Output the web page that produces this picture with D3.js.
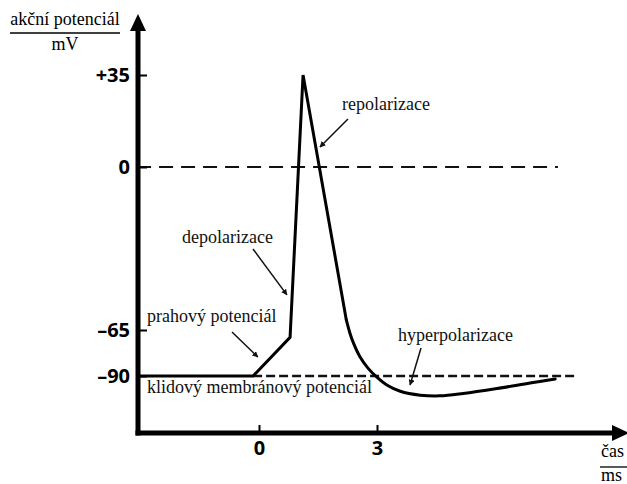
<!DOCTYPE html>
<html>
<head>
<meta charset="utf-8">
<script src="https://cdn.jsdelivr.net/npm/d3@7"></script>
<style>
  body { margin: 0; background: #fff; }
  svg { display: block; }
</style>
</head>
<body>
<script>
// Action potential
const timeMs = [-3.1, -0.15, 0.79, 1.12, 2.22, 2.31, 2.40, 2.57, 2.77, 2.99, 3.25, 3.59, 4.1, 4.6, 5.19, 6.05, 6.89, 7.53];
const potentialMv = [-90, -90, -69, 35, -61, -66.6, -72, -79.7, -85.7, -90.5, -94.9, -98.3, -100.4, -100.8, -99.5, -96.8, -93.8, -91.6];
const spikeEnd = 4; // index where the straight spike ends and the smooth tail begins

const yTicks = [35, 0, -65, -90];
const xTicks = [0, 3];

// reference (dashed) levels
const refLevels = [0, -90];
const refFrom = [-3.1, -0.15];
const refTo = [7.6, 8.1];

const width = 627, height = 484;
const axisLeftX = 138, axisBottomY = 433;

// the original drawing is not quite linear in mV, so a piecewise scale
const x = d3.scaleLinear().domain([0, 3]).range([259, 377]);
const y = d3.scaleLinear().domain([-90, -65, 0, 35]).range([376, 330, 167, 75]);

const svg = d3.select("body").append("svg")
  .attr("width", width)
  .attr("height", height);

const serif = "'Liberation Serif', 'DejaVu Serif', serif";
const sans = "'Open Sans', 'DejaVu Sans', sans-serif";

svg.append("defs").append("marker")
  .attr("id", "head")
  .attr("viewBox", "0 0 10 10")
  .attr("refX", 9).attr("refY", 5)
  .attr("markerWidth", 6).attr("markerHeight", 6)
  .attr("markerUnits", "userSpaceOnUse")
  .attr("orient", "auto")
  .append("path")
  .attr("d", "M0,0 L10,5 L0,10 Z")
  .attr("fill", "#111");

// dashed reference lines
const dashes = ["14,8", "9,4"];
refLevels.forEach((v, i) => {
  svg.append("line")
    .attr("x1", x(refFrom[i])).attr("x2", x(refTo[i]))
    .attr("y1", y(v)).attr("y2", y(v))
    .attr("stroke", "#111")
    .attr("stroke-width", i === 0 ? 2 : 2.5)
    .attr("stroke-dasharray", dashes[i]);
});

// the curve: straight spike + smooth tail
const pts = timeMs.map((t, i) => [t, potentialMv[i]]);
const spikeLine = d3.line().x(d => x(d[0])).y(d => y(d[1]));
const tailLine = d3.line().x(d => x(d[0])).y(d => y(d[1])).curve(d3.curveCatmullRom.alpha(0.5));

svg.append("path")
  .attr("d", spikeLine(pts.slice(0, spikeEnd + 1)))
  .attr("fill", "none")
  .attr("stroke", "#000")
  .attr("stroke-width", 3)
  .attr("stroke-linejoin", "miter");

svg.append("path")
  .attr("d", tailLine(pts.slice(spikeEnd)))
  .attr("fill", "none")
  .attr("stroke", "#000")
  .attr("stroke-width", 3)
  .attr("stroke-linecap", "round");

// axes
const yAxis = d3.axisLeft(y)
  .tickValues(yTicks)
  .tickFormat(d => d > 0 ? "+" + d : d < 0 ? "\u2013" + (-d) : "0")
  .tickSizeInner(-9).tickSizeOuter(0).tickPadding(8);

svg.append("g")
  .attr("transform", `translate(${axisLeftX},0)`)
  .call(yAxis)
  .call(g => g.select(".domain").remove())
  .call(g => g.selectAll(".tick line").attr("stroke", "#000").attr("stroke-width", 2))
  .call(g => g.selectAll(".tick text")
    .attr("font-family", sans).attr("font-weight", 700)
    .attr("font-size", 20).attr("fill", "#000"));

const xAxis = d3.axisBottom(x)
  .tickValues(xTicks)
  .tickFormat(d3.format("d"))
  .tickSizeInner(-8).tickSizeOuter(0).tickPadding(8);

svg.append("g")
  .attr("transform", `translate(0,${axisBottomY})`)
  .call(xAxis)
  .call(g => g.select(".domain").remove())
  .call(g => g.selectAll(".tick line").attr("stroke", "#000").attr("stroke-width", 2))
  .call(g => g.selectAll(".tick text")
    .attr("font-family", sans).attr("font-weight", 700)
    .attr("font-size", 20).attr("fill", "#000"));

// thick axis lines with arrow heads
svg.append("line")
  .attr("x1", axisLeftX).attr("x2", axisLeftX)
  .attr("y1", axisBottomY + 2.5).attr("y2", 28)
  .attr("stroke", "#000").attr("stroke-width", 5);
svg.append("path")
  .attr("d", `M${axisLeftX},14 L${axisLeftX - 8},31 L${axisLeftX + 8},31 Z`)
  .attr("fill", "#000");

svg.append("line")
  .attr("x1", axisLeftX - 2.5).attr("x2", 616)
  .attr("y1", axisBottomY).attr("y2", axisBottomY)
  .attr("stroke", "#000").attr("stroke-width", 5);
svg.append("path")
  .attr("d", `M629,${axisBottomY} L612,${axisBottomY - 8} L612,${axisBottomY + 8} Z`)
  .attr("fill", "#000");

// axis titles as fractions
function fraction(cx, top, bottom, yTop, yLine, yBottom, x1, x2, anchor) {
  svg.append("text").attr("x", cx).attr("y", yTop).attr("text-anchor", anchor)
    .attr("font-family", serif).attr("font-size", 18).text(top);
  svg.append("line").attr("x1", x1).attr("x2", x2).attr("y1", yLine).attr("y2", yLine)
    .attr("stroke", "#000").attr("stroke-width", 1.3);
  svg.append("text").attr("x", cx).attr("y", yBottom).attr("text-anchor", anchor)
    .attr("font-family", serif).attr("font-size", 18).text(bottom);
}
fraction(65, "akční potenciál", "mV", 25, 33, 50, 10, 120, "middle");
fraction(601, "čas", "ms", 457, 467, 481, 600, 627, "start");

// annotations: arrow tip in data units, label and arrow tail in pixels
const notes = [
  { text: "repolarizace", tip: [1.55, 7.6], tail: [348, 119], lx: 342, ly: 110 },
  { text: "depolarizace", tip: [0.71, -51], tail: [253, 249], lx: 182, ly: 243 },
  { text: "prahový potenciál", tip: [-0.03, -79.7], tail: [232, 332], lx: 147, ly: 322 },
  { text: "hyperpolarizace", tip: [3.84, -94.9], tail: [421, 348], lx: 398, ly: 341 },
  { text: "klidový membránový potenciál", tip: null, lx: 147, ly: 393 }
];

notes.forEach(n => {
  svg.append("text")
    .attr("x", n.lx).attr("y", n.ly)
    .attr("font-family", serif).attr("font-size", 18)
    .attr("fill", "#111")
    .text(n.text);
  if (n.tip) {
    svg.append("line")
      .attr("x1", n.tail[0]).attr("y1", n.tail[1])
      .attr("x2", x(n.tip[0])).attr("y2", y(n.tip[1]))
      .attr("stroke", "#111").attr("stroke-width", 1.5)
      .attr("marker-end", "url(#head)");
  }
});
</script>
</body>
</html>
